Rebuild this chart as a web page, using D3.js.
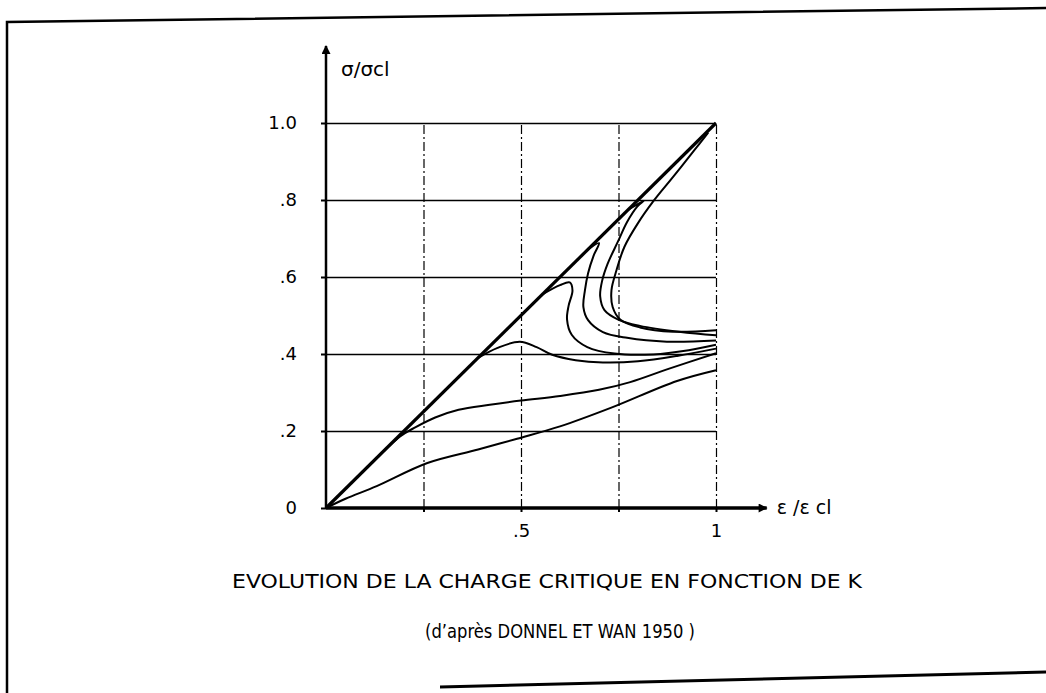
<!DOCTYPE html>
<html>
<head>
<meta charset="utf-8">
<script src="https://cdn.jsdelivr.net/npm/d3@7/dist/d3.min.js"></script>
<style>
  body { margin: 0; background: #fff; }
  svg { display: block; }
</style>
</head>
<body>
<div id="chart"></div>
<script>
// tick values + labels
var xTicks = [0.25, 0.5, 0.75, 1];
var xTickLabels = ["", ".5", "", "1"];
var yTicks = [0, 0.2, 0.4, 0.6, 0.8, 1.0];
var yTickLabels = ["0", ".2", ".4", ".6", ".8", "1.0"];

// the curves, as [eps/epscl, sigma/sigmacl]
var curveK0 = [[0, 0], [1, 1]];
var curveK1 = [[0.98, 0.975], [0.945, 0.93], [0.89, 0.86], [0.838, 0.795], [0.80, 0.74], [0.765, 0.678],
               [0.745, 0.618], [0.732, 0.566], [0.735, 0.522], [0.755, 0.489], [0.805, 0.469], [0.89, 0.458], [1, 0.462]];
var curveK2 = [[0.775, 0.775], [0.815, 0.798], [0.798, 0.783], [0.772, 0.743], [0.749, 0.693], [0.722, 0.634],
               [0.708, 0.59], [0.703, 0.55], [0.714, 0.514], [0.752, 0.488], [0.805, 0.473], [0.905, 0.458], [1, 0.449]];
var curveK3 = [[0.67, 0.67], [0.70, 0.688], [0.686, 0.655], [0.672, 0.61], [0.664, 0.566], [0.66, 0.522],
               [0.672, 0.488], [0.71, 0.457], [0.772, 0.442], [0.874, 0.432], [1, 0.435]];
var curveK4 = [[0.555, 0.555], [0.60, 0.579], [0.625, 0.586], [0.632, 0.565], [0.622, 0.525], [0.618, 0.49],
               [0.63, 0.45], [0.67, 0.418], [0.74, 0.401], [0.84, 0.399], [0.93, 0.41], [1, 0.424]];
var curveK5 = [[0.39, 0.39], [0.44, 0.416], [0.497, 0.432], [0.54, 0.418], [0.58, 0.398], [0.64, 0.384],
               [0.71, 0.378], [0.80, 0.381], [0.90, 0.395], [1, 0.414]];
var curveK6 = [[0, 0], [0.1, 0.1], [0.19, 0.186], [0.23, 0.21], [0.28, 0.235], [0.34, 0.255], [0.42, 0.268],
               [0.5, 0.279], [0.6, 0.291], [0.7, 0.307], [0.78, 0.327], [0.88, 0.362], [1, 0.402]];
var curveK7 = [[0, 0], [0.05, 0.024], [0.13, 0.057], [0.26, 0.117], [0.39, 0.152], [0.49, 0.18], [0.6, 0.212],
               [0.73, 0.26], [0.9, 0.33], [1, 0.358]];
var bucklingCurves = [curveK1, curveK2, curveK3, curveK4, curveK5, curveK6, curveK7];

var titleText = "EVOLUTION DE LA CHARGE CRITIQUE EN FONCTION DE K";
var sourceText = "(d\u2019apr\u00e8s DONNEL ET WAN 1950 )";

var width = 1046, height = 693;
var fontFam = "'DejaVu Sans', 'Liberation Sans', sans-serif";

var svg = d3.select("#chart").append("svg")
    .attr("width", width)
    .attr("height", height);

svg.append("rect").attr("width", width).attr("height", height).attr("fill", "#fff");

// scanned frame round the figure (slightly skewed, like the page)
svg.append("path")
    .attr("d", "M7,693 L7,22 L1046,8")
    .attr("fill", "none").attr("stroke", "#000").attr("stroke-width", 2.5);
svg.append("path")
    .attr("d", "M440,687 L1046,672")
    .attr("fill", "none").attr("stroke", "#000").attr("stroke-width", 3);

// scales
var x = d3.scaleLinear().domain([0, 1]).range([326, 716]);
var y = d3.scaleLinear().domain([0, 1]).range([508, 123]);

// arrow marker for the axes
svg.append("defs").append("marker")
    .attr("id", "arrow")
    .attr("viewBox", "0 0 10 10")
    .attr("refX", 9).attr("refY", 5)
    .attr("markerWidth", 14).attr("markerHeight", 9)
    .attr("markerUnits", "userSpaceOnUse")
    .attr("orient", "auto")
    .append("path").attr("d", "M0,0 L10,5 L0,10 Z").attr("fill", "#000");

// horizontal grid (solid)
var yGrid = svg.append("g")
    .attr("transform", "translate(" + x(0) + ",0)")
    .call(d3.axisLeft(y).tickValues(yTicks.slice(1)).tickSize(-(x(1) - x(0))).tickFormat(""));
yGrid.select(".domain").remove();
yGrid.selectAll("line").attr("stroke", "#000").attr("stroke-width", 1.6);

// vertical grid (dash-dot)
var xGrid = svg.append("g")
    .attr("transform", "translate(0," + y(0) + ")")
    .call(d3.axisBottom(x).tickValues(xTicks).tickSize(-(y(0) - y(1))).tickFormat(""));
xGrid.select(".domain").remove();
xGrid.selectAll("line").attr("stroke", "#000").attr("stroke-width", 1.2)
    .attr("stroke-dasharray", "9,3,2,3");

// y axis labels + small ticks
var yAxis = svg.append("g")
    .attr("transform", "translate(" + x(0) + ",0)")
    .call(d3.axisLeft(y).tickValues(yTicks).tickSize(5).tickPadding(24)
        .tickFormat(function (d, i) { return yTickLabels[i]; }));
yAxis.select(".domain").remove();
yAxis.selectAll("line").attr("stroke", "#000").attr("stroke-width", 2);
yAxis.selectAll("text").attr("font-family", fontFam).attr("font-size", "18px").attr("fill", "#000");

// x axis labels + small ticks
var xAxis = svg.append("g")
    .attr("transform", "translate(0," + y(0) + ")")
    .call(d3.axisBottom(x).tickValues(xTicks).tickSize(4).tickPadding(12)
        .tickFormat(function (d, i) { return xTickLabels[i]; }));
xAxis.select(".domain").remove();
xAxis.selectAll("line").attr("stroke", "#000").attr("stroke-width", 2);
xAxis.selectAll("text").attr("font-family", fontFam).attr("font-size", "18px").attr("fill", "#000");

// the two axis lines with arrows
svg.append("line")
    .attr("x1", x(0)).attr("y1", y(0)).attr("x2", x(0)).attr("y2", y(1.2))
    .attr("stroke", "#000").attr("stroke-width", 2.5).attr("marker-end", "url(#arrow)");
svg.append("line")
    .attr("x1", x(0)).attr("y1", y(0)).attr("x2", x(1.13)).attr("y2", y(0))
    .attr("stroke", "#000").attr("stroke-width", 3.5).attr("marker-end", "url(#arrow)");

// axis titles
svg.append("text")
    .attr("x", x(0) + 15).attr("y", y(1.2) + 30)
    .attr("font-family", fontFam).attr("font-size", "20px")
    .text("\u03c3/\u03c3cl");
svg.append("text")
    .attr("x", x(1.13) + 10).attr("y", y(0) + 6)
    .attr("font-family", fontFam).attr("font-size", "19px")
    .text("\u03b5 /\u03b5 cl");

// the curves
var line = d3.line()
    .x(function (d) { return x(d[0]); })
    .y(function (d) { return y(d[1]); })
    .curve(d3.curveCatmullRom.alpha(0.5));

svg.selectAll(".curve")
    .data(bucklingCurves)
    .enter()
    .append("path")
    .attr("class", "curve")
    .attr("d", line)
    .attr("fill", "none")
    .attr("stroke", "#000")
    .attr("stroke-width", 2)
    .attr("stroke-linejoin", "round");

// K = 0 straight line, drawn thicker
svg.append("path")
    .datum(curveK0)
    .attr("d", line)
    .attr("fill", "none")
    .attr("stroke", "#000")
    .attr("stroke-width", 3.2);

// captions
svg.append("text")
    .attr("x", 547).attr("y", 588)
    .attr("text-anchor", "middle")
    .attr("font-family", fontFam).attr("font-size", "19px")
    .attr("textLength", 630).attr("lengthAdjust", "spacingAndGlyphs")
    .text(titleText);
svg.append("text")
    .attr("x", 560).attr("y", 638)
    .attr("text-anchor", "middle")
    .attr("font-family", fontFam).attr("font-size", "19px")
    .attr("textLength", 270).attr("lengthAdjust", "spacingAndGlyphs")
    .text(sourceText);
</script>
</body>
</html>
